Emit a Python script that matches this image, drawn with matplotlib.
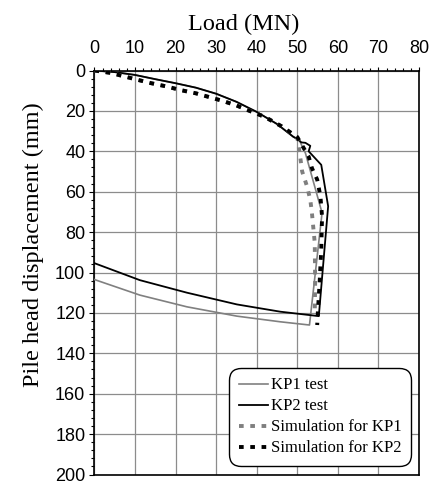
import matplotlib
matplotlib.use("Agg")
import matplotlib.pyplot as plt
from matplotlib.ticker import MultipleLocator

# Loading branch shared by both tests
load_common = [0, 5, 10, 15, 20, 25, 30, 35, 40, 45, 49]
disp_common = [0, 0.8, 2.2, 4.3, 6.3, 8.5, 11.5, 15.5, 20.5, 26.5, 32.8]

kp1_load = load_common + [50.6, 52.0, 56.1, 53.0, 45.8, 35.1, 22.8, 11.2, 0]
kp1_disp = disp_common + [35.0, 40.9, 70.5, 126.0, 124.4, 121.6, 117.0, 111.2, 103.5]

kp2_load = load_common + [50, 51, 52, 53.2, 52.8, 55.9, 57.6, 55.3, 45.8, 35.1, 22.8, 11.2, 0]
kp2_disp = disp_common + [33.8, 35.6, 35.8, 37.3, 40.0, 46.7, 67.2, 121.6, 119.4, 115.8, 110.0, 103.8, 95.4]

sim1_load = [0, 4, 7.5, 11, 14, 18, 21, 25, 28, 31.5, 35, 38, 42, 46, 50, 50.7, 51.2, 52.4, 53.2, 53.6, 54.3, 54.4, 54.3]
sim1_disp = [0, 1.2, 3.0, 4.8, 6.3, 8.0, 9.6, 11.3, 13.0, 15.0, 17.3, 19.8, 23.0, 27.5, 33.0, 42.6, 50.0, 57.4, 64.0, 70.5, 85.3, 105.0, 121.0]

sim2_load = [0, 4, 7.5, 11, 14, 18, 21, 25, 28, 31.5, 35, 38, 42, 46, 50, 52.8, 53.6, 54.9, 55.7, 56.1, 55.9, 55.5, 55.1, 54.9]
sim2_disp = [0, 1.2, 3.0, 4.8, 6.3, 8.0, 9.6, 11.3, 13.0, 15.0, 17.3, 19.8, 23.0, 27.5, 33.0, 42.6, 48.3, 54.0, 62.3, 72.2, 88.6, 105.0, 118.3, 126.0]

labels = ["KP1 test", "KP2 test", "Simulation for KP1", "Simulation for KP2"]

serif = ["Liberation Serif", "DejaVu Serif"]
sans = ["Liberation Sans", "DejaVu Sans"]

fig = plt.figure(figsize=(4.31, 4.82), dpi=100)
ax = fig.add_axes([94.5 / 431, 1 - 474.5 / 482, 324.5 / 431, 404 / 482])

ax.plot(kp1_load, kp1_disp, color="#808080", lw=1.2, label=labels[0], zorder=3)
ax.plot(kp2_load, kp2_disp, color="black", lw=1.3, label=labels[1], zorder=3)
ax.plot(sim1_load, sim1_disp, color="#7f7f7f", lw=2.8, linestyle=(0, (1.2, 1.7)),
        label=labels[2], zorder=4)
ax.plot(sim2_load, sim2_disp, color="black", lw=2.8, linestyle=(0, (1.2, 1.7)),
        label=labels[3], zorder=4)

ax.set_xlim(0, 80)
ax.set_ylim(200, 0)
ax.xaxis.tick_top()
ax.xaxis.set_label_position("top")
ax.xaxis.set_major_locator(MultipleLocator(10))
ax.xaxis.set_minor_locator(MultipleLocator(2))
ax.yaxis.set_major_locator(MultipleLocator(20))
ax.yaxis.set_minor_locator(MultipleLocator(4))

ax.grid(True, which="major", color="#8c8c8c", lw=0.9)
for s in ax.spines.values():
    s.set_linewidth(1.2)
    s.set_color("black")

ax.tick_params(axis="x", which="major", direction="out", length=3.2, width=0.8, pad=6.5,
               labelsize=13, top=True, bottom=False)
ax.tick_params(axis="x", which="minor", direction="out", length=2.5, width=0.8, top=True, bottom=False)
ax.tick_params(axis="y", which="major", direction="out", length=3.6, width=0.8, pad=3.0,
               labelsize=13, right=False)
ax.tick_params(axis="y", which="minor", direction="out", length=2.2, width=0.8, right=False)
for lab in ax.get_xticklabels() + ax.get_yticklabels():
    lab.set_family(sans)

ax.set_xlabel("Load (MN)", fontsize=17.5, family=serif)
ax.set_ylabel("Pile head displacement (mm)", fontsize=17.5, family=serif)
ax.xaxis.set_label_coords(0.459, 1.1)
ax.yaxis.set_label_coords(-0.155, 0.569)

leg = ax.legend(loc="lower right", bbox_to_anchor=(0.975, 0.022), borderaxespad=0,
                prop={"family": serif, "size": 12}, frameon=True, fancybox=True,
                edgecolor="black", framealpha=1, handlelength=1.75, handletextpad=0.2,
                labelspacing=0.3, borderpad=0.55)
leg.get_frame().set_linewidth(1.0)
leg.get_frame().set_boxstyle("round,pad=0,rounding_size=0.7")
leg.set_zorder(10)

fig.savefig("out.png", dpi=100)
